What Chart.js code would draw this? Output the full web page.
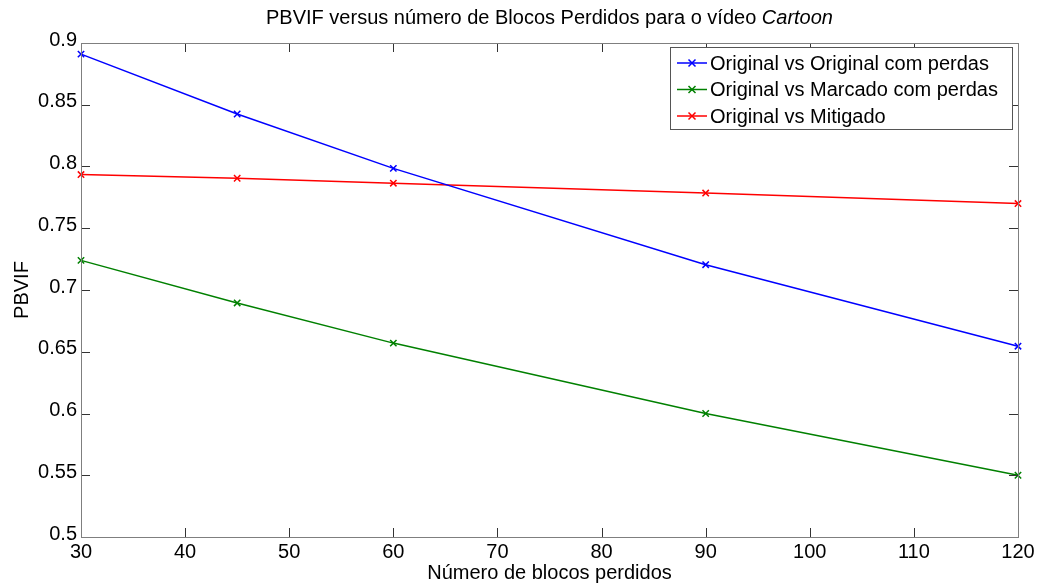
<!DOCTYPE html>
<html>
<head>
<meta charset="utf-8">
<script src="https://cdn.jsdelivr.net/npm/chart.js@4.4.1/dist/chart.umd.min.js"></script>
<style>
  html, body { margin: 0; padding: 0; background: #fff; }
  #wrap { width: 1039px; height: 588px; }
</style>
</head>
<body>
<div id="wrap"><canvas id="chart"></canvas></div>
<script>
// dados
const blocos = [30, 45, 60, 90, 120];
const origVsOrigPerdas = [0.891, 0.8425, 0.7985, 0.7205, 0.6545];
const origVsMarcadoPerdas = [0.724, 0.6895, 0.657, 0.600, 0.550];
const origVsMitigado = [0.7935, 0.7905, 0.7865, 0.7785, 0.770];

const seriesLabels = [
  "Original vs Original com perdas",
  "Original vs Marcado com perdas",
  "Original vs Mitigado",
];
const xTicks = [30, 40, 50, 60, 70, 80, 90, 100, 110, 120];
const yTicks = [0.5, 0.55, 0.6, 0.65, 0.7, 0.75, 0.8, 0.85, 0.9];

const FONT = "'Liberation Sans', Arial, Helvetica, sans-serif";

const toPoints = (ys) => blocos.map((x, i) => ({ x: x, y: ys[i] }));

const mkDataset = (label, ys, color) => ({
  label: label,
  data: toPoints(ys),
  borderColor: color,
  backgroundColor: color,
  borderWidth: 1.5,
  pointStyle: "crossRot",
  pointRadius: 4.5,
  pointHoverRadius: 4.5,
  pointBorderWidth: 1.5,
  tension: 0,
  clip: false,
});

// moldura, ticks para dentro, título e legenda no estilo MATLAB
const matlabStyle = {
  id: "matlabStyle",
  afterDraw(chart) {
    const { ctx, chartArea: a, scales } = chart;
    const tl = 9;
    ctx.save();
    ctx.strokeStyle = "#333";
    ctx.lineWidth = 1;
    scales.x.ticks.forEach((t) => {
      const px = Math.round(scales.x.getPixelForValue(t.value)) + 0.5;
      ctx.beginPath();
      ctx.moveTo(px, a.bottom);
      ctx.lineTo(px, a.bottom - tl);
      ctx.moveTo(px, a.top);
      ctx.lineTo(px, a.top + tl);
      ctx.stroke();
    });
    scales.y.ticks.forEach((t) => {
      const py = Math.round(scales.y.getPixelForValue(t.value)) + 0.5;
      ctx.beginPath();
      ctx.moveTo(a.left, py);
      ctx.lineTo(a.left + tl, py);
      ctx.moveTo(a.right, py);
      ctx.lineTo(a.right - tl, py);
      ctx.stroke();
    });
    ctx.strokeStyle = "#7f7f7f";
    ctx.strokeRect(Math.round(a.left) + 0.5, Math.round(a.top) + 0.5,
      Math.round(a.right - a.left), Math.round(a.bottom - a.top));

    // título com "Cartoon" em itálico
    const t1 = "PBVIF versus número de Blocos Perdidos para o vídeo ";
    const t2 = "Cartoon";
    ctx.fillStyle = "#000";
    ctx.textBaseline = "middle";
    ctx.textAlign = "left";
    ctx.font = "20px " + FONT;
    const w1 = ctx.measureText(t1).width;
    ctx.font = "italic 20px " + FONT;
    const w2 = ctx.measureText(t2).width;
    const cx = (a.left + a.right) / 2;
    const sx = cx - (w1 + w2) / 2;
    ctx.font = "20px " + FONT;
    ctx.fillText(t1, sx, 18);
    ctx.font = "italic 20px " + FONT;
    ctx.fillText(t2, sx + w1, 18);

    // legenda
    const bx = 670.5, by = 47.5, bw = 342, bh = 82;
    ctx.fillStyle = "#fff";
    ctx.fillRect(bx, by, bw, bh);
    ctx.strokeStyle = "#555";
    ctx.strokeRect(bx, by, bw, bh);
    ctx.font = "20px " + FONT;
    chart.data.datasets.forEach((ds, i) => {
      const y = 63 + i * 26.5;
      ctx.strokeStyle = ds.borderColor;
      ctx.lineWidth = 1.5;
      ctx.beginPath();
      ctx.moveTo(677, y);
      ctx.lineTo(707, y);
      ctx.stroke();
      const r = 3.5;
      ctx.beginPath();
      ctx.moveTo(692 - r, y - r);
      ctx.lineTo(692 + r, y + r);
      ctx.moveTo(692 - r, y + r);
      ctx.lineTo(692 + r, y - r);
      ctx.stroke();
      ctx.fillStyle = "#000";
      ctx.fillText(ds.label, 710, y + 1);
    });
    ctx.restore();
  },
};

const chart = new Chart(document.getElementById("chart"), {
  type: "line",
  data: {
    datasets: [
      mkDataset(seriesLabels[0], origVsOrigPerdas, "#0000ff"),
      mkDataset(seriesLabels[1], origVsMarcadoPerdas, "#008000"),
      mkDataset(seriesLabels[2], origVsMitigado, "#ff0000"),
    ],
  },
  options: {
    responsive: true,
    maintainAspectRatio: false,
    animation: false,
    layout: { padding: { top: 43, right: 21, left: 0, bottom: 0 } },
    plugins: {
      legend: { display: false },
      title: { display: false },
      tooltip: { enabled: false },
    },
    scales: {
      x: {
        type: "linear",
        min: 30,
        max: 120,
        afterBuildTicks: (s) => { s.ticks = xTicks.map((v) => ({ value: v })); },
        afterFit: (s) => { s.height = 51; },
        grid: { display: false, drawTicks: false },
        border: { display: false },
        ticks: {
          color: "#000",
          padding: 3,
          maxRotation: 0,
          autoSkip: false,
          font: { family: FONT, size: 20 },
        },
        title: {
          display: true,
          text: "Número de blocos perdidos",
          color: "#000",
          font: { family: FONT, size: 20 },
          padding: { top: 0, bottom: 3 },
        },
      },
      y: {
        min: 0.5,
        max: 0.9,
        afterBuildTicks: (s) => { s.ticks = yTicks.map((v) => ({ value: v })); },
        afterFit: (s) => { s.width = 81; },
        grid: { display: false, drawTicks: false },
        border: { display: false },
        ticks: {
          color: "#000",
          padding: 4,
          autoSkip: false,
          labelOffset: -3,
          font: { family: FONT, size: 20 },
          callback: (v) => String(+v.toFixed(2)),
        },
        title: {
          display: true,
          text: "PBVIF",
          color: "#000",
          font: { family: FONT, size: 20 },
          padding: { top: 10, bottom: 0 },
        },
      },
    },
  },
  plugins: [matlabStyle],
});
</script>
</body>
</html>
